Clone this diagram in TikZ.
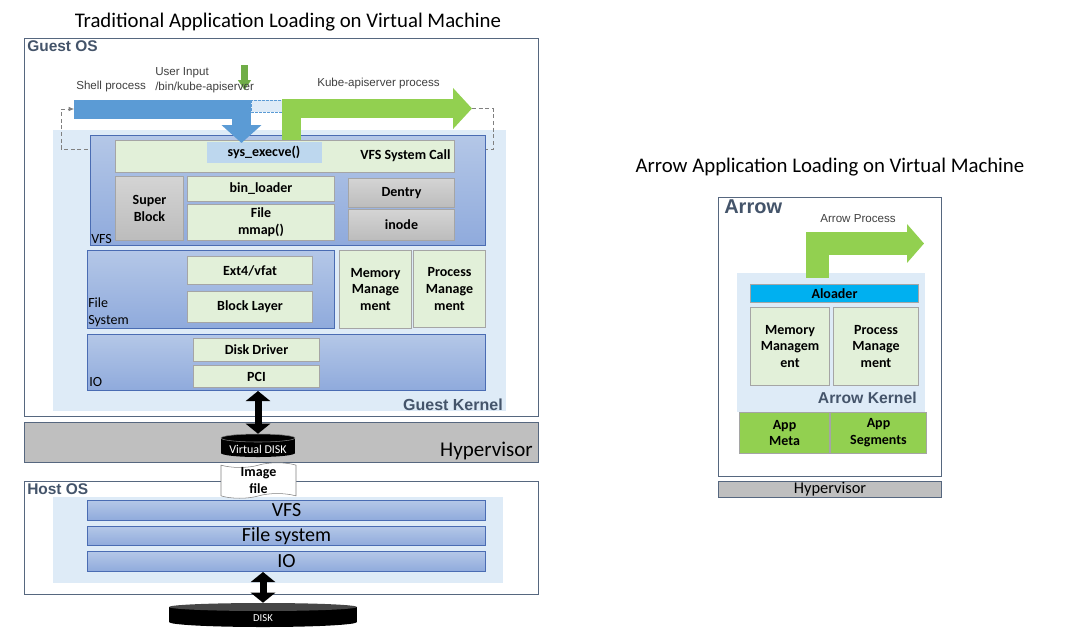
\documentclass[tikz,border=0pt]{standalone}
\usepackage{fontspec}
\setmainfont{Carlito}
\newfontfamily\arialfont{Liberation Sans}
\usetikzlibrary{arrows.meta,shapes.symbols,calc}

\definecolor{frameblue}{HTML}{56677F}
\definecolor{labelgrey}{HTML}{44546A}
\definecolor{kernelbg}{HTML}{DEEBF7}
\definecolor{layertop}{HTML}{B4C7E7}
\definecolor{layerbot}{HTML}{8FAADC}
\definecolor{layerline}{HTML}{4A6CB3}
\definecolor{cellgreen}{HTML}{E2F0D9}
\definecolor{cellline}{HTML}{A5A5A5}
\definecolor{greytop}{HTML}{D4D4D4}
\definecolor{greybot}{HTML}{BCBCBC}
\definecolor{execblue}{HTML}{BDD7EE}
\definecolor{shellblue}{HTML}{5B9BD5}
\definecolor{procgreen}{HTML}{92D050}
\definecolor{inputgreen}{HTML}{70AD47}
\definecolor{hypergrey}{HTML}{BFBFBF}
\definecolor{aloadercyan}{HTML}{00B0F0}
\definecolor{textgrey}{HTML}{404040}

\tikzset{
  frame/.style={draw=frameblue, fill=white, line width=0.75pt},
  kernelarea/.style={fill=kernelbg},
  layerbox/.style={draw=layerline, top color=layertop, bottom color=layerbot, line width=0.75pt},
  cell/.style={draw=cellline, fill=cellgreen, line width=0.75pt, font=\fontsize{10.5}{12.7}\selectfont\bfseries},
  greycell/.style={cell, top color=greytop, bottom color=greybot},
  execcell/.style={cell, draw=none, fill=execblue},
  aloaderbar/.style={cell, fill=aloadercyan},
  appcell/.style={cell, fill=procgreen},
  hyperbar/.style={draw=frameblue, fill=hypergrey, line width=0.75pt},
  titletext/.style={font=\fontsize{15.6}{18}\selectfont},
  oslabel/.style={font=\arialfont\fontsize{11.6}{14}\selectfont\bfseries, text=labelgrey},
  layerlabel/.style={font=\fontsize{10.5}{12.7}\selectfont, align=left},
  proclabel/.style={font=\arialfont\fontsize{8.7}{11.2}\selectfont, text=textgrey},
  disktext/.style={font=\fontsize{9}{11}\selectfont, text=white},
  fatarrow/.style={line width=5.25pt, {Triangle[width=18pt,length=7.5pt]}-{Triangle[width=18pt,length=7.5pt]}},
  procarrow/.style={line width=14.25pt, line join=miter},
  loopline/.style={draw=gray, line width=0.5pt, dash pattern=on 3pt off 2pt, -{Latex[length=4pt,width=3.5pt]}}
}

\begin{document}
\begin{tikzpicture}[x=0.75pt,y=-0.75pt, every node/.style={inner sep=0pt, align=center}]
  \useasboundingbox (0,0) rectangle (1069,629);
  %% box from its top left corner (x1,y1) to (x2,y2), in pixels
  \def\layer#1#2#3#4#5#6#7{%
    \node[#1, anchor=north west, minimum width={(#4-#2)*0.75pt}, minimum height={(#5-#3)*0.75pt}] (#6) at (#2,#3) {#7};}

  \node[titletext] (title1) at (288,22) {Traditional Application Loading on Virtual Machine};
  \node[titletext] (title2) at (830,167) {Arrow Application Loading on Virtual Machine};

  %% Guest OS
  \layer{frame}{24}{38}{538}{416}{guestos}{}
  \node[oslabel, anchor=north west] (guestoslabel) at (27,40) {Guest OS};
  \layer{kernelarea}{53}{130}{506}{411}{guestkernel}{}
  \node[oslabel, font=\arialfont\fontsize{12}{14}\selectfont\bfseries, anchor=base east] (guestkernellabel) at (503,410) {Guest Kernel};

  \coordinate (shellstart) at (74,109);
  \coordinate (exectip) at (241.5,143);
  \coordinate (kubestart) at (291.5,140);
  \coordinate (kubetip) at (472,108.5);
  \coordinate (inputtop) at (244.5,65);
  \coordinate (inputtip) at (244.5,90);
  \draw[loopline] (kubetip) -- ++(21,0) |- (61,149) |- (shellstart);

  %% VFS
  \layer{layerbox}{90}{135}{485}{245}{vfs}{}
  \node[layerlabel, anchor=base west] (vfslabel) at (91,243) {VFS};
  \layer{cell}{115}{140}{454}{172}{syscall}{}
  \node[cell, draw=none, fill=none, anchor=east] (syscalllabel) at (451,156) {VFS System Call};
  \layer{execcell}{206}{141}{321}{162}{sysexecve}{sys\_execve()}
  \layer{greycell}{115}{176}{183}{240}{superblock}{Super\\Block}
  \layer{cell}{187}{176}{334}{201}{binloader}{bin\_loader}
  \layer{cell}{187}{204}{334}{240}{filemmap}{File\\mmap()}
  \layer{greycell}{348}{178}{454}{207}{dentry}{Dentry}
  \layer{greycell}{348}{209}{454}{240}{inode}{inode}

  %% File System
  \layer{layerbox}{87}{250}{334}{328}{filesys}{}
  \node[layerlabel, anchor=south west] (filesyslabel) at (88,327) {File\\System};
  \layer{cell}{187}{256}{312}{284}{ext4}{Ext4/vfat}
  \layer{cell}{187}{291}{312}{322}{blocklayer}{Block Layer}
  \layer{cell}{339}{250}{411}{328}{memmgmt}{Memory\\Manage\\ment}
  \layer{cell}{413}{250}{485}{327}{procmgmt}{Process\\Manage\\ment}

  %% IO
  \layer{layerbox}{87}{334}{485}{390}{guestio}{}
  \node[layerlabel, anchor=base west] (guestiolabel) at (89,386) {IO};
  \layer{cell}{193}{338}{319}{361}{diskdriver}{Disk Driver}
  \layer{cell}{193}{365}{319}{387}{pci}{PCI}

  %% processes
  \filldraw[fill=kernelbg, draw=shellblue, line width=0.4pt, dash pattern=on 2pt off 1pt] (251,100) rectangle (282,112);
  \draw[procarrow, shellblue, -{Triangle[width=29.25pt,length=13.5pt]}] (shellstart) -| (exectip);
  \draw[procarrow, procgreen, -{Triangle[width=30pt,length=14.25pt]}] (kubestart) |- (kubetip);
  \draw[inputgreen, line width=5.5pt, -{Triangle[width=9.5pt,length=7.5pt]}] (inputtop) -- (inputtip);
  \node[proclabel, anchor=west] (shelllabel) at (76,86) {Shell process};
  \node[proclabel, anchor=north west, align=left] (inputlabel) at (155,67) {User Input\\/bin/kube-apiserver};
  \node[proclabel, anchor=west] (kubelabel) at (317,83) {Kube-apiserver process};

  %% Hypervisor
  \layer{hyperbar}{24}{422}{538}{462}{hypervisor}{}
  \node[font=\fontsize{15.75}{18}\selectfont, anchor=base east] (hyperlabel) at (533,456) {Hypervisor};
  \fill[black] (221,438) rectangle (295,453);
  \fill[black] (258,453) ellipse [x radius=37, y radius=4];
  \filldraw[fill=black, draw=gray] (258,438) ellipse [x radius=37, y radius=4];
  \node[disktext, minimum width=55.5pt, minimum height=22.5pt] (vdisk) at (258,449) {Virtual DISK};
  \draw[fatarrow] (vdisk.north |- guestio.south) -- (vdisk.north);

  %% Host OS
  \layer{frame}{24}{481}{538}{594}{hostos}{}
  \node[oslabel, anchor=north west] (hostoslabel) at (27,483) {Host OS};
  \layer{kernelarea}{53}{497}{503}{583}{hostkernel}{}
  \foreach \y/\h/\name/\txt in {500/520/hostvfs/VFS, 526/545/hostfs/File system, 551/571/hostio/IO}{
    \layer{layerbox, font=\fontsize{15}{18}\selectfont}{87}{\y}{485}{\h}{\name}{\txt}
  }
  \node[tape, draw=gray, fill=white, font=\fontsize{10.5}{12.7}\selectfont\bfseries, minimum width=56.25pt, minimum height=25.5pt, tape bend height=3.5pt] (imagefile) at (258.5,480.5) {Image\\file};
  \fill[black] (169,607) rectangle (357,622);
  \fill[black] (263,622) ellipse [x radius=94, y radius=5];
  \fill[gray!55!black] (263,607) ellipse [x radius=94, y radius=4];
  \node[disktext, font=\fontsize{8}{10}\selectfont, minimum width=141pt, minimum height=22.5pt] (disk) at (263,618) {DISK};
  \draw[fatarrow] (disk.north |- hostio.south) -- (disk.north);

  %% Arrow
  \layer{frame}{718}{197}{941}{476}{arrowos}{}
  \node[oslabel, font=\arialfont\fontsize{15}{18}\selectfont\bfseries, anchor=north west] (arrowoslabel) at (724,199) {Arrow};
  \node[proclabel] (arrowproclabel) at (858,219) {Arrow Process};
  \layer{kernelarea}{737}{273}{925}{412}{arrowkernel}{}
  \coordinate (aprocstart) at (817,278);
  \coordinate (aproctip) at (924,243.5);
  \draw[procarrow, procgreen, line width=17.25pt, -{Triangle[width=28.5pt,length=12.75pt]}] (aprocstart) |- (aproctip);
  \layer{aloaderbar}{750}{284}{918}{302}{aloader}{Aloader}
  \layer{cell}{750}{307}{829}{385}{amem}{Memory\\Managem\\ent}
  \layer{cell}{833}{307}{918}{385}{aproc}{Process\\Manage\\ment}
  \node[oslabel, font=\arialfont\fontsize{11.8}{14}\selectfont\bfseries, anchor=base east] (arrowkernellabel) at (917,403) {Arrow Kernel};
  \layer{appcell}{739}{412}{829}{453}{appmeta}{App\\Meta}
  \layer{appcell}{830}{412}{926}{453}{appseg}{App\\Segments}
  \layer{hyperbar, font=\fontsize{12.3}{14}\selectfont}{718}{481}{941}{497}{hyper2}{Hypervisor}
\end{tikzpicture}
\end{document}
